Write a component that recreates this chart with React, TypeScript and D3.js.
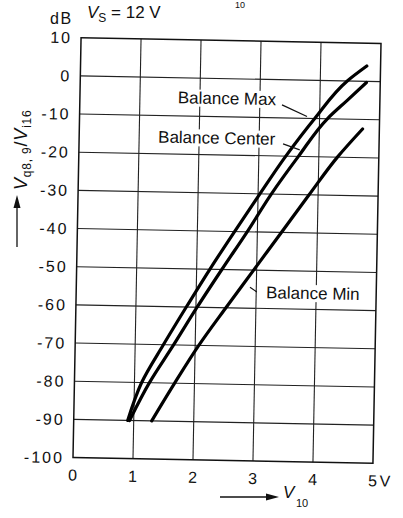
import React from "react";
import * as d3 from "d3";

// values: output in V (x) at each dB level (y)
const maxV = [0.9, 1.12, 1.47, 1.84, 2.22, 2.62, 3.03, 3.45, 3.92, 4.45, 4.77];
const maxDb = [-90, -80, -70, -60, -50, -40, -30, -20, -10, 0, 4];
const centerV = [0.93, 1.25, 1.64, 2.02, 2.42, 2.83, 3.22, 3.66, 4.13, 4.46, 4.77];
const centerDb = [-90, -80, -70, -60, -50, -40, -30, -20, -10, -5, -0.3];
const minV = [1.3, 1.67, 2.06, 2.5, 2.95, 3.4, 3.85, 4.31, 4.72];
const minDb = [-90, -80, -70, -60, -50, -40, -30, -20, -12.5];

const xTicks = [0, 1, 2, 3, 4, 5];
const yTicks = [10, 0, -10, -20, -30, -40, -50, -60, -70, -80, -90, -100];

const width = 403;
const height = 518;
const plot = { left: 77, right: 377, top: 40.5, bottom: 460.5 };
const tilt = 1.1; // the scan is slightly rotated

const font = "'Liberation Sans', Arial, Helvetica, sans-serif";

const x = d3.scaleLinear().domain([0, 5]).range([plot.left, plot.right]);
const y = d3.scaleLinear().domain([-100, 10]).range([plot.bottom, plot.top]);

const line = d3
  .line<[number, number]>()
  .x((d) => x(d[0]))
  .y((d) => y(d[1]))
  .curve(d3.curveMonotoneY);

const zip = (a: number[], b: number[]) =>
  a.map((v, i) => [v, b[i]] as [number, number]);

const curves = [zip(maxV, maxDb), zip(centerV, centerDb), zip(minV, minDb)];

// annotations: [text, anchor, textV, textDb, pointer from V/dB to V/dB]
const notes: [string, string, number, number, number[]][] = [
  ["Balance Max", "end", 3.27, -6.7, [3.37, -6.6, 3.79, -9.5]],
  ["Balance Center", "end", 3.27, -17.1, [3.4, -16.8, 3.68, -18.3]],
  ["Balance Min", "start", 3.165, -57.3, [2.895, -54.5, 3.01, -55.7]],
];

export default function App() {
  const cx = (plot.left + plot.right) / 2;
  const cy = (plot.top + plot.bottom) / 2;
  return (
    <svg
      width={width}
      height={height}
      style={{ position: "absolute", left: 0, top: 0, background: "#fff" }}
      fontFamily={font}
    >
      <g transform={`rotate(${tilt} ${cx} ${cy})`}>
        {yTicks.slice(1, -1).map((t) => (
          <line
            key={"h" + t}
            x1={plot.left}
            x2={plot.right}
            y1={y(t)}
            y2={y(t)}
            stroke="#222"
            strokeWidth={1.1}
          />
        ))}
        {xTicks.slice(1, -1).map((t) => (
          <line
            key={"v" + t}
            x1={x(t)}
            x2={x(t)}
            y1={plot.top}
            y2={plot.bottom}
            stroke="#222"
            strokeWidth={1.1}
          />
        ))}
        <rect
          x={plot.left}
          y={plot.top}
          width={plot.right - plot.left}
          height={plot.bottom - plot.top}
          fill="none"
          stroke="#111"
          strokeWidth={1.5}
        />

        {yTicks.map((t) => (
          <text
            key={"yl" + t}
            x={plot.left - 9}
            y={y(t)}
            dy="0.36em"
            textAnchor="end"
            fontSize={16}
            letterSpacing={2}
            fill="#111"
          >
            {t === 0 ? "0" : t < 0 ? "-" + Math.abs(t) : String(t)}
          </text>
        ))}
        {xTicks.map((t) => (
          <text
            key={"xl" + t}
            x={x(t)}
            y={plot.bottom + 23}
            textAnchor="middle"
            fontSize={16}
            fill="#111"
          >
            {t}
          </text>
        ))}
        <text x={x(5) + 7} y={plot.bottom + 23} fontSize={16} fill="#111">
          V
        </text>

        {curves.map((c, i) => (
          <path
            key={"c" + i}
            d={line(c) || ""}
            fill="none"
            stroke="#000"
            strokeWidth={3.2}
            strokeLinecap="round"
          />
        ))}

        {notes.map(([label, anchor, tv, tdb, p]) => (
          <g key={label}>
            <rect
              x={anchor === "end" ? x(tv) - label.length * 7.6 : x(tv) - 2}
              y={y(tdb) - 14}
              width={label.length * 7.6 + 4}
              height={17}
              fill="#fff"
            />
            <text
              x={x(tv)}
              y={y(tdb)}
              textAnchor={anchor}
              fontSize={17}
              fill="#111"
            >
              {label}
            </text>
            <line
              x1={x(p[0])}
              y1={y(p[1])}
              x2={x(p[2])}
              y2={y(p[3])}
              stroke="#111"
              strokeWidth={1.2}
            />
          </g>
        ))}
      </g>

      {/* titles, placed in page coordinates */}
      <text x={235} y={8} fontSize={9} fill="#111">
        10
      </text>
      <text x={50} y={24} fontSize={16} letterSpacing={1.5} fill="#111">
        dB
      </text>
      <text x={87} y={18} fontSize={17} fill="#111">
        <tspan fontStyle="italic">V</tspan>
        <tspan fontSize={12} dy={4}>
          S
        </tspan>
        <tspan dy={-4}> = 12 V</tspan>
      </text>

      <g transform="translate(27,190) rotate(-90)">
        <text fontSize={18} fill="#111" letterSpacing={0.8}>
          <tspan fontStyle="italic">V</tspan>
          <tspan fontSize={12} dy={4}>
            q8, 9
          </tspan>
          <tspan dy={-4}>/</tspan>
          <tspan fontStyle="italic">V</tspan>
          <tspan fontSize={12} dy={4}>
            i16
          </tspan>
        </text>
      </g>
      <line x1={17} y1={247} x2={17} y2={205} stroke="#111" strokeWidth={1.3} />
      <path d="M17,195 L13.5,208 L20.5,208 Z" fill="#111" />

      <line x1={220} y1={497} x2={268} y2={497} stroke="#111" strokeWidth={1.3} />
      <path d="M279,497 L266,493.5 L266,500.5 Z" fill="#111" />
      <text x={283} y={498} fontSize={17} fontStyle="italic" fill="#111">
        V
      </text>
      <text x={296} y={507} fontSize={11} fill="#111">
        10
      </text>
    </svg>
  );
}
